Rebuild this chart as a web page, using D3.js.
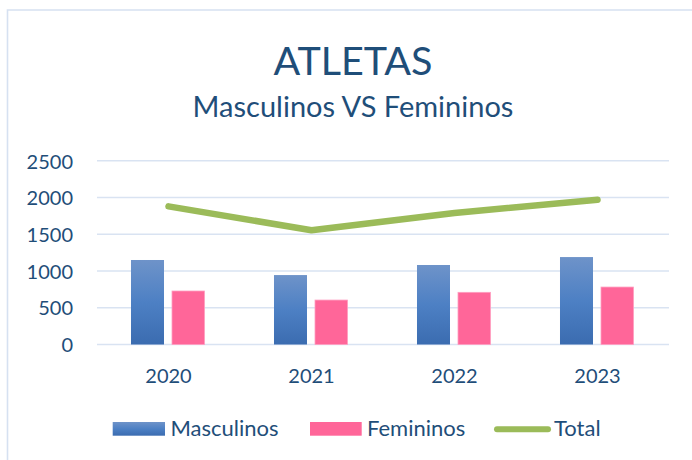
<!DOCTYPE html>
<html><head><meta charset="utf-8">
<script src="https://cdn.jsdelivr.net/npm/d3@7"></script>
<style>
html,body{margin:0;padding:0;background:#fff;}
svg{display:block;font-family:Lato, "Open Sans", sans-serif;}
</style></head>
<body>
<svg id="c" width="692" height="460"></svg>
<script>
const categories = ["2020","2021","2022","2023"];
const masculinos = [1150, 945, 1082, 1190];
const femininos = [728, 605, 710, 782];
const total = [1880, 1555, 1790, 1970];
const yTicks = [0, 500, 1000, 1500, 2000, 2500];
const seriesNames = ["Masculinos","Femininos","Total"];

const textColor = "#1f4e79";
const svg = d3.select("#c");

// frame
svg.append("path").attr("d","M7.5,460 V10 H692").attr("fill","none")
  .attr("stroke","#d6e1f1").attr("stroke-width",1.6);

const defs = svg.append("defs");
const g1 = defs.append("linearGradient").attr("id","gb").attr("x1",0).attr("y1",0).attr("x2",0).attr("y2",1);
g1.append("stop").attr("offset","0%").attr("stop-color","#6e93c9");
g1.append("stop").attr("offset","50%").attr("stop-color","#4d80c4");
g1.append("stop").attr("offset","100%").attr("stop-color","#3b6cb0");

const x = d3.scaleBand().domain(categories).range([97, 669]).padding(0);
const y = d3.scaleLinear().domain([0, 2500]).range([344.5, 160.8]);

// grid
svg.append("g").selectAll("line").data(yTicks).join("line")
  .attr("x1", 97).attr("x2", 669)
  .attr("y1", d => y(d)).attr("y2", d => y(d))
  .attr("stroke", "#d9e3f2").attr("stroke-width", 1.6);

// y axis labels
const yAxis = d3.axisLeft(y).tickValues(yTicks).tickSize(0).tickPadding(0).tickFormat(d3.format("d"));
const ya = svg.append("g").attr("transform","translate(73,0)").call(yAxis);
ya.select(".domain").remove();
ya.selectAll("text").attr("font-size", 20).attr("fill", textColor)
  .attr("font-family","Lato, sans-serif").attr("dy","0.36em");

// x axis labels
const xAxis = d3.axisBottom(x).tickSize(0).tickPadding(0);
const xa = svg.append("g").attr("transform","translate(0,383)").call(xAxis);
xa.select(".domain").remove();
xa.selectAll("text").attr("font-size", 20).attr("fill", textColor)
  .attr("font-family","Lato, sans-serif").attr("dy","0");

const bw = x.bandwidth();
const barW = bw * 0.2308;

svg.append("g").selectAll("rect").data(masculinos).join("rect")
  .attr("x", (d,i) => x(categories[i]) + bw/2 - bw*0.0315 - barW)
  .attr("width", barW)
  .attr("y", d => y(d)).attr("height", d => y(0) - y(d))
  .attr("fill", "url(#gb)");

svg.append("g").selectAll("rect").data(femininos).join("rect")
  .attr("x", (d,i) => x(categories[i]) + bw/2 + bw*0.0245)
  .attr("width", barW - 0.5)
  .attr("y", d => y(d)).attr("height", d => y(0) - y(d))
  .attr("fill", "#ff6699").attr("stroke","#ff9ec0").attr("stroke-width",0.8);

const line = d3.line().x((d,i) => x(categories[i]) + bw/2).y(d => y(d));
svg.append("path").datum(total).attr("d", line)
  .attr("fill","none").attr("stroke","#9bbb59").attr("stroke-width",6.5)
  .attr("stroke-linecap","round").attr("stroke-linejoin","round");

// titles
svg.append("text").attr("x", 353).attr("y", 75).attr("text-anchor","middle")
  .attr("font-size", 39.5).attr("fill", textColor).text("ATLETAS");
svg.append("text").attr("x", 353).attr("y", 117).attr("text-anchor","middle")
  .attr("font-size", 29).attr("fill", textColor).text("Masculinos VS Femininos");

// legend
const lg = svg.append("g");
lg.append("rect").attr("x",112.7).attr("y",422).attr("width",52.3).attr("height",13.7).attr("fill","url(#gb)");
lg.append("text").attr("x",170.5).attr("y",436).attr("font-size",22).attr("fill",textColor).text(seriesNames[0]);
lg.append("rect").attr("x",310).attr("y",422).attr("width",51.7).attr("height",13.7).attr("fill","#ff6699");
lg.append("text").attr("x",367).attr("y",436).attr("font-size",22).attr("fill",textColor).text(seriesNames[1]);
lg.append("line").attr("x1",497).attr("x2",548).attr("y1",429.3).attr("y2",429.3)
  .attr("stroke","#9bbb59").attr("stroke-width",6).attr("stroke-linecap","round");
lg.append("text").attr("x",554).attr("y",436).attr("font-size",22).attr("fill",textColor).text(seriesNames[2]);
</script>
</body></html>
